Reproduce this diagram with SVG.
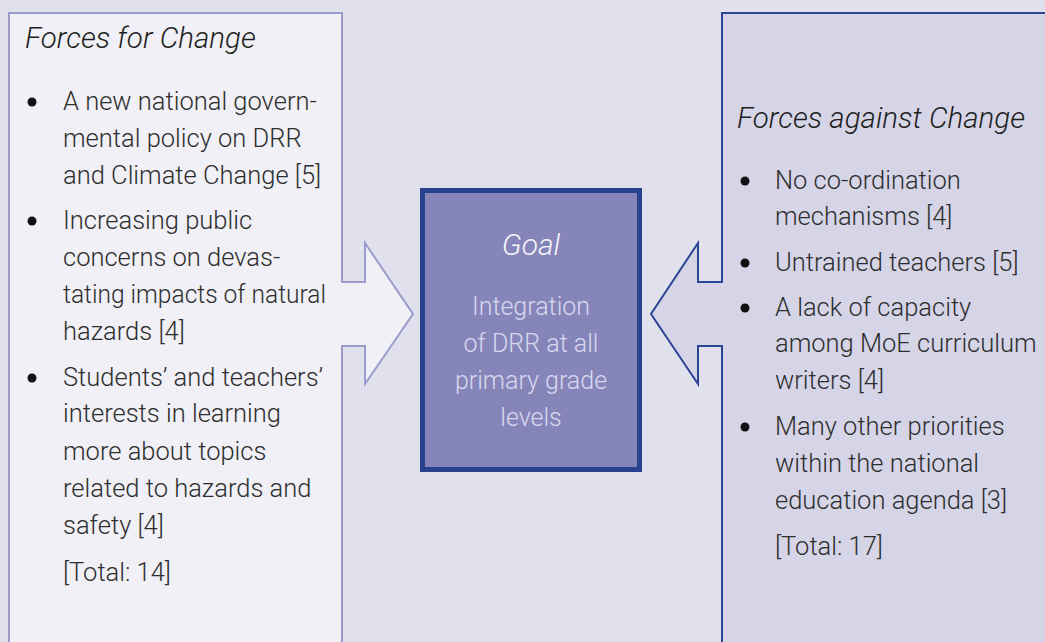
<svg xmlns="http://www.w3.org/2000/svg" width="1045" height="642" viewBox="0 0 1045 642">
<style>
.t{font-family:Roboto,"Liberation Sans",sans-serif;font-weight:300;font-size:25.5px;fill:#2e2e2e}
.h{font-family:Roboto,"Liberation Sans",sans-serif;font-weight:300;font-style:italic;font-size:29.5px;fill:#1e1e1e}
.g{font-family:Roboto,"Liberation Sans",sans-serif;font-weight:300;font-size:25px;fill:#d8d8ee;text-anchor:middle}
.gi{font-family:Roboto,"Liberation Sans",sans-serif;font-weight:300;font-style:italic;font-size:30px;fill:#f4f4fa;text-anchor:middle}
.b{fill:#111}
</style>
<rect x="0" y="0" width="1045" height="642" fill="#e1e1ee"/>
<g id="forces-for">
<path d="M9,700 L9,13 L342,13 L342,282 L365,282 L365,243 L413,314 L365,384 L365,346 L342,346 L342,700 Z" fill="#f0f0f6" stroke="#9b9bcd" stroke-width="2"/>
<text class="h" x="25" y="48">Forces for Change</text>
<circle class="b" cx="32" cy="102" r="4.5"/>
<circle class="b" cx="32" cy="221" r="4.5"/>
<circle class="b" cx="32" cy="378" r="4.5"/>
<text class="t" x="63" y="110">A new national govern-</text>
<text class="t" x="63" y="147">mental policy on DRR</text>
<text class="t" x="63" y="184">and Climate Change [5]</text>
<text class="t" x="63" y="229">Increasing public</text>
<text class="t" x="63" y="266">concerns on devas-</text>
<text class="t" x="63" y="303" textLength="263" lengthAdjust="spacingAndGlyphs">tating impacts of natural</text>
<text class="t" x="63" y="340">hazards [4]</text>
<text class="t" x="63" y="386">Students’ and teachers’</text>
<text class="t" x="63" y="422">interests in learning</text>
<text class="t" x="63" y="460">more about topics</text>
<text class="t" x="63" y="497">related to hazards and</text>
<text class="t" x="63" y="534">safety [4]</text>
<text class="t" x="63" y="581">[Total: 14]</text>
</g>
<g id="goal">
<rect x="422.5" y="190.5" width="217" height="279" fill="#8585b9" stroke="#2a4190" stroke-width="5"/>
<text class="gi" x="531" y="255">Goal</text>
<text class="g" x="531" y="315">Integration</text>
<text class="g" x="531" y="352">of DRR at all</text>
<text class="g" x="531" y="389">primary grade</text>
<text class="g" x="531" y="426">levels</text>
</g>
<g id="forces-against">
<path d="M722,700 L722,346 L698,346 L698,384 L651,314 L698,243 L698,282 L722,282 L722,13 L1100,13 L1100,700 Z" fill="#d5d5e7" stroke="#2b4494" stroke-width="2"/>
<text class="h" x="737" y="128">Forces against Change</text>
<circle class="b" cx="745" cy="181" r="4.5"/>
<circle class="b" cx="745" cy="263" r="4.5"/>
<circle class="b" cx="745" cy="308" r="4.5"/>
<circle class="b" cx="745" cy="427" r="4.5"/>
<text class="t" x="775" y="189">No co-ordination</text>
<text class="t" x="775" y="225">mechanisms [4]</text>
<text class="t" x="775" y="271">Untrained teachers [5]</text>
<text class="t" x="775" y="316">A lack of capacity</text>
<text class="t" x="775" y="352">among MoE curriculum</text>
<text class="t" x="775" y="389">writers [4]</text>
<text class="t" x="775" y="435">Many other priorities</text>
<text class="t" x="775" y="472">within the national</text>
<text class="t" x="775" y="509">education agenda [3]</text>
<text class="t" x="775" y="555">[Total: 17]</text>
</g>
<g id="connectors"></g>
</svg>
